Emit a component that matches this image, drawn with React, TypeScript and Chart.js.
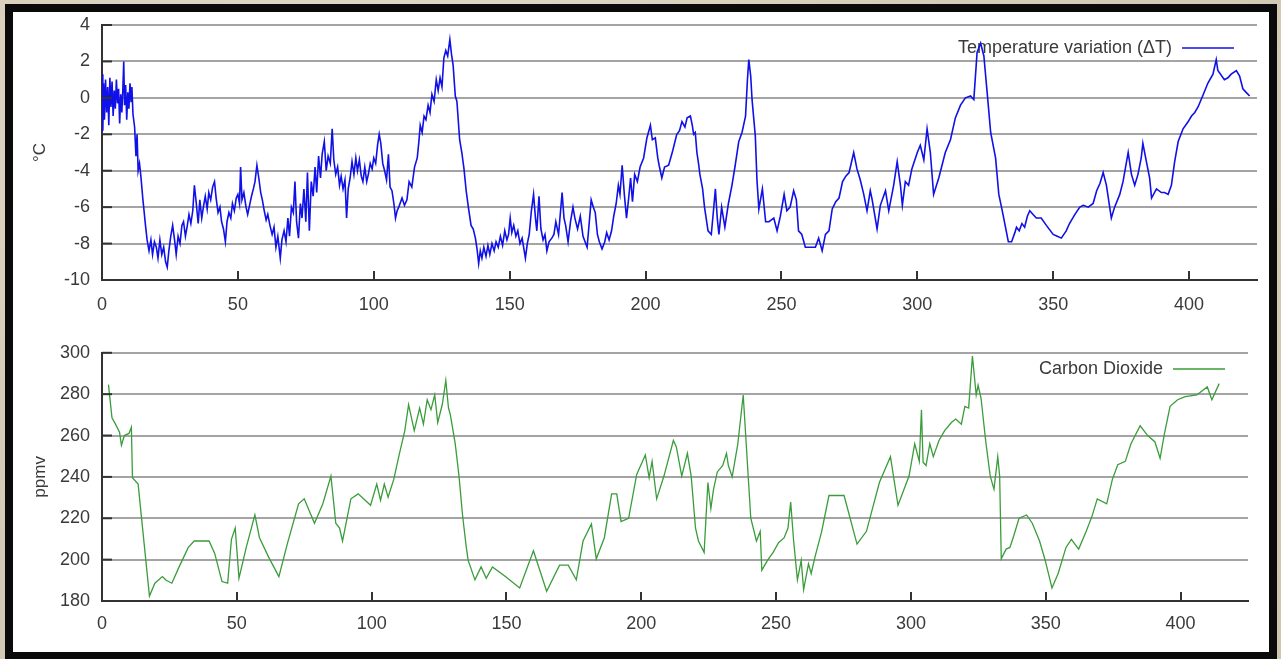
import React, { useEffect, useRef } from "react";
import { Chart, registerables } from "chart.js";

Chart.register(...registerables);

// ---------- data ----------
const tempAge = [
  0, 0.3, 0.6, 0.9, 1.3, 1.7, 2.1, 2.5, 2.9, 3.3, 3.7, 4.1, 4.5, 4.9, 5.3, 5.7, 6.1, 6.5, 6.9, 7.3, 7.7, 8.0, 8.3, 8.7, 9.1, 9.5, 9.9, 10.3, 10.7, 11.0,
  11.4, 12.0, 12.5, 12.9, 13.3, 13.8, 14.3, 15.0, 16.0, 16.6, 17.3, 18.0, 18.6, 19.3, 20.0, 20.6, 21.3, 22.0, 22.7, 23.4, 24.0, 24.6, 25.3, 26.0, 26.7, 27.3, 28.0, 28.7, 29.4, 30.0,
  30.7, 31.4, 32.0, 32.7, 33.4, 34.0, 34.7, 35.4, 36.0, 36.7, 37.3, 38.0, 38.7, 39.3, 40.0, 40.7, 41.4, 42.0, 42.7, 43.4, 44.0, 44.7, 45.4, 46.0, 46.7, 47.4, 48.0, 48.7, 49.4, 50.0,
  50.6, 51.0, 51.5, 52.2, 53.0, 53.6, 54.3, 55.0, 55.7, 56.3, 57.0, 57.7, 58.4, 59.0, 59.7, 60.4, 61.0, 61.8, 62.6, 63.3, 64.0, 64.7, 65.6, 66.2, 67.0, 67.7, 68.4, 69.0, 69.7, 70.4,
  71.0, 71.6, 72.3, 73.0, 73.6, 74.3, 75.0, 75.6, 76.3, 77.0, 77.7, 78.4, 79.0, 79.7, 80.4, 81.0, 81.8, 82.5, 83.2, 84.0, 84.7, 85.3, 86.0, 86.7, 87.4, 88.0, 88.7, 89.4, 90.0, 90.6,
  91.3, 92.0, 92.7, 93.4, 94.0, 94.7, 95.4, 96.0, 96.7, 97.4, 98.0, 98.7, 99.4, 100.0, 100.7, 101.4, 102.0, 102.6, 103.3, 104.0, 104.7, 105.4, 106.0, 106.7, 107.4, 108.0, 108.6,
  109.2, 110.4, 111.3, 112.2, 113.0, 114.0, 115.0, 116.0, 116.6, 117.1, 117.8, 118.5, 119.2, 120.0, 120.7, 121.4, 122.2, 123.0, 123.7, 124.4, 125.1, 125.8, 126.5, 127.2, 128.0, 128.6, 129.2, 130.0, 130.6,
  131.6, 132.4, 133.2, 134.0, 134.9, 135.8, 136.6, 137.4, 138.0, 138.6, 139.2, 139.8, 140.5, 141.3, 142.0, 142.7, 143.5, 144.3, 145.0, 145.8, 146.6, 147.4, 148.2, 149.0, 149.6,
  150.2, 150.8, 151.5, 152.3, 153.0, 153.8, 154.6, 155.8, 156.5, 157.2, 158.0, 158.8, 159.5, 160.0, 160.8, 161.5, 162.3, 163.0, 163.7, 164.5, 165.5, 166.3, 167.0, 168.0, 169.3,
  170.0, 170.6, 171.5, 172.4, 173.3, 174.0, 175.0, 176.0, 177.0, 178.5, 179.2, 180.0, 180.8, 181.5, 182.3, 183.0, 184.0, 185.0, 185.7, 186.6, 187.5, 188.3, 189.2, 190.0, 190.6,
  191.4, 192.2, 193.0, 193.8, 194.5, 195.2, 196.0, 197.0, 198.0, 199.3, 200.5, 201.8, 202.5, 203.6, 204.5, 205.0, 206.0, 207.0, 208.5, 210.0, 211.5, 212.5, 213.4, 214.5, 215.3,
  216.5, 217.2, 217.7, 218.3, 218.9, 219.5, 220.0, 221.0, 221.7, 223.0, 224.2, 225.0, 225.7, 226.4, 227.0, 228.0, 229.2, 230.5, 231.8, 233.0, 234.3, 235.5, 236.8, 237.5, 238.0,
  238.7, 239.2, 240.4, 241.0, 241.7, 243.0, 244.2, 245.4, 247.2, 248.4, 249.6, 251.0, 252.0, 253.2, 254.5, 255.5, 256.3, 257.5, 258.8, 260.6, 262.5, 263.7, 265.0, 266.2, 267.5,
  268.7, 270.0, 271.2, 272.5, 273.7, 274.9, 276.6, 277.8, 279.0, 280.3, 281.5, 282.7, 283.4, 285.2, 286.4, 288.3, 289.5, 291.3, 292.6, 293.8, 294.5, 295.6, 296.8, 298.0, 300.0,
  301.1, 302.4, 303.6, 304.8, 306.0, 307.9, 310.3, 312.2, 314.0, 315.9, 317.7, 319.6, 320.8, 322.0, 323.3, 324.5, 325.7, 327.0, 328.8, 330.0, 331.4, 333.5, 334.7, 335.9, 336.5,
  337.5, 338.5, 339.5, 340.5, 341.4, 342.6, 343.8, 345.6, 347.5, 350.0, 351.5, 353.0, 354.8, 356.0, 358.0, 359.8, 361.1, 362.9, 364.7, 366.0, 367.2, 368.4, 369.6, 371.4, 372.6,
  374.5, 375.7, 377.0, 377.6, 378.8, 380.0, 381.2, 382.4, 383.0, 384.3, 385.5, 386.2, 388.0, 389.8, 391.0, 392.3, 393.5, 394.7, 396.0, 397.8, 399.7, 400.9, 402.1, 403.3, 405.0,
  406.9, 408.8, 410.0, 410.6, 413.0, 414.3, 415.5, 417.4, 418.6, 419.8, 421.0, 422.3,
];
const tempDelta = [
  1.3, -1.8, 0.8, -1.2, 1.0, -0.8, 0.6, -1.5, 1.1, -0.5, 0.9, -1.0, 0.4, -0.6, 1.0, -0.3, 0.5, -1.4, 0.2, -0.8, 0.6, 2.0, -0.4, 0.7, -1.2, 0.3, -0.6, 0.8, -0.2, 0.6,
  -0.9, -1.6, -3.2, -2.0, -4.0, -3.6, -4.3, -5.5, -7.0, -7.8, -8.4, -7.8, -8.6, -7.9, -8.2, -8.8, -7.8, -8.6, -8.2, -9.0, -9.3, -8.4, -7.6, -7.0, -7.8, -8.6, -7.6, -8.0, -7.0, -6.8,
  -7.6, -7.0, -6.4, -6.9, -6.2, -4.8, -5.8, -6.9, -5.6, -6.6, -6.0, -5.4, -6.1, -5.2, -5.6, -4.9, -4.6, -5.5, -6.3, -6.0, -6.8, -7.2, -7.9, -6.8, -6.3, -6.6, -5.8, -6.2, -5.5, -5.3,
  -5.8, -3.8, -5.6, -5.2, -6.0, -6.4, -5.9, -5.4, -5.0, -4.6, -3.7, -4.4, -5.2, -5.6, -6.2, -6.7, -6.4, -7.0, -7.5, -7.1, -8.2, -7.6, -8.8, -7.8, -7.3, -7.9, -6.6, -7.6, -6.0, -6.3,
  -4.6, -6.8, -7.7, -5.8, -6.6, -5.0, -6.8, -4.1, -7.3, -4.6, -5.4, -3.8, -5.2, -3.2, -4.4, -3.1, -2.4, -4.0, -3.2, -3.6, -1.7, -3.4, -4.2, -3.8, -4.8, -4.3, -5.0, -4.5, -6.6, -5.0,
  -4.4, -3.5, -4.2, -3.3, -4.0, -3.4, -4.3, -4.6, -3.8, -4.6, -4.2, -3.6, -3.9, -3.3, -3.6, -2.6, -2.0, -2.5, -3.6, -4.0, -4.5, -3.1, -4.9, -5.1, -5.8, -6.6, -6.2,
  -6.0, -5.5, -5.9, -5.6, -4.6, -4.9, -3.8, -3.3, -2.4, -1.5, -1.9, -1.0, -1.2, -0.4, -0.8, 0.2, -0.2, 1.0, 0.4, 1.1, 0.6, 2.2, 2.6, 2.3, 3.2, 2.4, 1.8, 0.1, -0.2,
  -2.3, -3.0, -3.9, -5.1, -6.1, -7.0, -7.2, -7.7, -8.3, -9.1, -8.4, -8.8, -8.2, -8.7, -8.1, -8.6, -8.0, -8.4, -7.9, -8.2, -7.6, -8.1, -7.3, -7.8, -7.5,
  -6.6, -7.4, -7.0, -7.6, -7.3, -8.0, -7.7, -8.8, -8.0, -7.5, -6.2, -5.3, -6.6, -7.3, -5.4, -7.2, -7.8, -7.5, -8.4, -7.9, -7.7, -7.5, -6.8, -7.5, -5.2,
  -6.6, -7.0, -7.9, -6.8, -6.0, -6.6, -7.2, -6.5, -7.6, -8.2, -7.0, -5.6, -6.0, -6.3, -7.5, -7.9, -8.3, -7.9, -7.4, -7.8, -7.3, -6.5, -5.8, -4.8, -5.3,
  -3.7, -5.3, -6.6, -5.5, -4.4, -5.7, -4.2, -4.6, -3.8, -3.3, -2.2, -1.5, -2.3, -2.2, -3.3, -3.7, -4.4, -3.8, -3.7, -2.9, -2.0, -1.8, -1.3, -1.6, -1.1,
  -1.0, -1.5, -2.0, -1.9, -3.0, -3.6, -4.2, -5.0, -6.0, -7.3, -7.5, -6.2, -5.0, -6.6, -7.5, -6.0, -7.1, -5.8, -4.8, -3.7, -2.4, -1.9, -1.0, 1.0, 2.1,
  1.2, -0.1, -2.1, -4.5, -6.1, -5.0, -6.8, -6.8, -6.6, -7.3, -6.5, -5.3, -6.2, -6.0, -5.1, -5.6, -7.3, -7.5, -8.2, -8.2, -8.2, -7.7, -8.4, -7.5, -7.3,
  -6.1, -5.7, -5.5, -4.6, -4.3, -4.1, -3.0, -3.9, -4.5, -5.3, -6.2, -5.1, -5.6, -7.2, -5.9, -5.1, -6.2, -4.8, -3.5, -4.8, -5.9, -4.6, -4.8, -3.9, -3.0,
  -2.6, -3.4, -1.7, -3.0, -5.3, -4.4, -3.0, -2.3, -1.1, -0.4, 0.0, 0.1, -0.1, 2.5, 3.0, 2.3, 0.3, -1.9, -3.3, -5.3, -6.3, -7.9, -7.9, -7.4, -7.1,
  -7.3, -6.9, -7.1, -6.5, -6.2, -6.4, -6.6, -6.6, -7.0, -7.5, -7.6, -7.7, -7.3, -6.9, -6.4, -6.0, -5.9, -6.0, -5.8, -5.1, -4.7, -4.1, -4.8, -6.6, -6.0,
  -5.3, -4.6, -3.5, -3.0, -4.2, -4.8, -4.2, -3.3, -2.5, -3.5, -4.4, -5.5, -5.0, -5.2, -5.2, -5.3, -4.8, -3.5, -2.4, -1.7, -1.3, -1.0, -0.8, -0.5, 0.1,
  0.8, 1.3, 2.1, 1.5, 1.0, 1.1, 1.3, 1.5, 1.2, 0.5, 0.3, 0.1,
];

const co2Age = [
  2.4, 3.7, 5.0, 6.5, 7.2, 8.3, 10.0, 10.9, 11.3, 13.4, 14.8, 17.6, 19.6, 22.4, 23.8, 25.9, 28.6, 32.0, 34.2, 39.7,
  41.8, 44.5, 46.6, 48.0, 49.4, 50.8, 53.5, 56.7, 58.4, 61.8, 65.6, 68.7, 72.9, 75.0, 78.8, 81.9, 84.9, 86.7, 88.1, 89.2,
  92.3, 95.0, 99.6, 101.9, 103.3, 104.7, 106.1, 108.2, 110.2, 112.3, 113.7, 115.8, 117.8, 119.2, 120.6, 122.0, 123.4, 124.5, 126.2, 127.5,
  128.5, 129.2, 131.0, 132.4, 133.7, 135.1, 135.8, 138.3, 140.6, 142.5, 144.8, 149.6, 154.9, 160.0, 164.9, 169.7, 172.9, 175.9, 178.4, 181.5,
  183.3, 186.3, 189.0, 190.9, 192.5, 195.3, 198.3, 201.5, 202.9, 204.0, 205.7, 208.4, 211.9, 213.0, 215.0, 217.1, 218.5, 220.1, 221.2, 223.3,
  224.7, 225.8, 226.8, 228.2, 230.2, 231.6, 232.3, 233.7, 235.8, 237.8, 240.6, 242.7, 244.1, 244.7, 246.8, 248.9, 250.9, 253.0, 254.4, 255.4,
  256.5, 257.9, 259.3, 260.2, 262.0, 263.0, 264.4, 266.9, 269.6, 272.4, 275.2, 280.0, 283.5, 288.3, 292.4, 295.2, 299.3, 301.4, 303.1, 303.9,
  304.5, 305.6, 307.0, 308.3, 310.4, 312.5, 315.0, 316.6, 318.7, 320.0, 321.4, 322.8, 324.2, 324.9, 326.0, 327.7, 329.4, 330.8, 332.2, 332.9,
  333.5, 335.3, 336.7, 338.1, 340.1, 342.9, 345.0, 347.7, 349.8, 352.3, 354.6, 357.5, 359.5, 362.2, 365.0, 367.1, 369.1, 372.6, 374.7, 376.7,
  379.5, 381.6, 385.0, 387.8, 390.5, 392.4, 394.0, 396.1, 398.9, 401.7, 406.0, 409.9, 411.6, 414.3,
];
const co2Ppmv = [
  284.6, 268.6, 265.5, 261.6, 255.3, 260, 261, 264, 239.6, 236.5, 218.4, 182.4, 188.6, 191.8, 190, 188.6, 196.5, 205.9, 209, 209,
  203, 189.4, 188.6, 209.8, 215.3, 191, 205.9, 221.6, 210.6, 201.2, 191.8, 207.5, 227, 229.4, 217.6, 227, 240.4, 217.6, 215.3, 209,
  229.4, 231.8, 226.3, 236.5, 228.7, 236.5, 230.2, 238.8, 250.6, 262.4, 274.9, 262.4, 273.3, 265.5, 277.3, 272.5, 279.6, 266.3, 275, 286.7,
  273.3, 270, 256, 240.4, 221.6, 205.9, 199.6, 190.2, 196.5, 191, 196.5, 191.8, 186.3, 204.3, 184.7, 197.3, 197.3, 190.2, 209, 217.2,
  200.4, 210.6, 231.8, 231.8, 218.4, 220, 241.2, 250.6, 239.6, 247.5, 229.4, 240.4, 257.6, 254.5, 240.4, 251.4, 240.4, 215.3, 209, 203.5,
  237.3, 224.7, 234.1, 242.4, 245.5, 251.4, 245.5, 240, 256, 279.6, 220, 209, 213.7, 194.9, 199.6, 203.5, 208.2, 210.6, 215.3, 227.8,
  209, 190.2, 199.6, 185.5, 198, 193.3, 201.2, 213.7, 231, 231, 231, 207.5, 213.7, 237.3, 249.8, 226.3, 240.4, 256, 247.5, 272.5,
  247.1, 245.5, 256, 249.8, 257.6, 262.4, 266.3, 268, 265.5, 274.1, 273.3, 298.4, 279.6, 284.3, 278, 257.6, 240.4, 234.1, 249.8, 240.4,
  200.4, 205.1, 205.9, 211.4, 220, 221.6, 217.6, 209, 199.6, 186.3, 193.3, 205.9, 209.8, 205.1, 213.7, 220.8, 229.4, 227, 238.8, 245.9,
  247.5, 256, 264.7, 260, 256.9, 249, 260.8, 274.1, 277.3, 278.8, 279.6, 283.5, 277.3, 285.1,
];

const xTickValues = [0, 50, 100, 150, 200, 250, 300, 350, 400];
const tempTickValues = [-10, -8, -6, -4, -2, 0, 2, 4];
const co2TickValues = [180, 200, 220, 240, 260, 280, 300];

const tempLabel = "Temperature variation (ΔT)";
const co2Label = "Carbon Dioxide";
const tempAxisTitle = "°C";
const co2AxisTitle = "ppmv";

const FONT = '"Liberation Sans", Arial, Helvetica, sans-serif';
const TEXT = "#3a3a3a";
const GRID = "#a4a4a4";
const AXIS = "#333333";
const BLUE = "#1010e8";
const GREEN = "#3a9c3a";

type PanelCfg = {
  ages: number[];
  values: number[];
  color: string;
  lineWidth: number;
  label: string;
  axisTitle: string;
  yTicks: number[];
  xMax: number;
  canvasH: number;
  plotTop: number;
  plotBottom: number;
  plotRight: number;
  xLabelPad: number;
  legendRight: number;
  legendY: number;
  sampleX1: number;
  sampleX2: number;
};

function makeDecor(cfg: PanelCfg) {
  return {
    id: "decor",
    beforeDatasetsDraw(chart: any) {
      const { ctx } = chart;
      ctx.save();
      ctx.font = `18px ${FONT}`;
      ctx.fillStyle = TEXT;
      ctx.textAlign = "right";
      ctx.textBaseline = "middle";
      ctx.fillText(cfg.label, cfg.legendRight, cfg.legendY);
      ctx.strokeStyle = cfg.color;
      ctx.lineWidth = 1.3;
      ctx.beginPath();
      ctx.moveTo(cfg.sampleX1, cfg.legendY);
      ctx.lineTo(cfg.sampleX2, cfg.legendY);
      ctx.stroke();
      ctx.restore();
    },
    afterDatasetsDraw(chart: any) {
      const { ctx, chartArea, scales } = chart;
      ctx.save();
      ctx.strokeStyle = AXIS;
      ctx.lineWidth = 2;
      scales.x.ticks.forEach((t: any) => {
        const px = Math.round(scales.x.getPixelForValue(t.value));
        ctx.beginPath();
        ctx.moveTo(px, chartArea.bottom);
        ctx.lineTo(px, chartArea.bottom - 9);
        ctx.stroke();
      });
      scales.y.ticks.forEach((t: any) => {
        const py = scales.y.getPixelForValue(t.value);
        ctx.beginPath();
        ctx.moveTo(chartArea.left, py);
        ctx.lineTo(chartArea.left + 10, py);
        ctx.stroke();
      });
      ctx.restore();
    },
  };
}

function buildChart(canvas: HTMLCanvasElement, cfg: PanelCfg) {
  const points = cfg.ages.map((a, i) => ({ x: a, y: cfg.values[i] }));
  const padLeft = 28;
  return new Chart(canvas, {
    type: "line",
    data: {
      datasets: [
        {
          label: cfg.label,
          data: points,
          borderColor: cfg.color,
          borderWidth: cfg.lineWidth,
          pointRadius: 0,
          tension: 0,
          fill: false,
        },
      ],
    },
    options: {
      responsive: false,
      animation: false,
      devicePixelRatio: 1,
      layout: {
        padding: { left: padLeft, top: cfg.plotTop, right: 1281 - cfg.plotRight, bottom: 0 },
      },
      plugins: {
        legend: { display: false },
        tooltip: { enabled: false },
      },
      scales: {
        x: {
          type: "linear",
          min: 0,
          max: cfg.xMax,
          afterBuildTicks: (s: any) => {
            s.ticks = xTickValues.map((v) => ({ value: v }));
          },
          afterFit: (s: any) => {
            s.height = cfg.canvasH - cfg.plotBottom;
          },
          ticks: {
            includeBounds: false,
            autoSkip: false,
            maxRotation: 0,
            padding: cfg.xLabelPad,
            color: TEXT,
            font: { family: FONT, size: 18 },
          },
          grid: { display: false, drawTicks: false },
          border: { display: true, color: AXIS, width: 2 },
        },
        y: {
          type: "linear",
          min: cfg.yTicks[0],
          max: cfg.yTicks[cfg.yTicks.length - 1],
          afterBuildTicks: (s: any) => {
            s.ticks = cfg.yTicks.map((v) => ({ value: v }));
          },
          afterFit: (s: any) => {
            s.width = 102 - padLeft;
          },
          ticks: {
            autoSkip: false,
            padding: 12,
            color: TEXT,
            font: { family: FONT, size: 18 },
          },
          grid: { display: true, drawTicks: false, color: GRID, lineWidth: 2 },
          border: { display: true, color: AXIS, width: 2 },
          title: {
            display: true,
            text: cfg.axisTitle,
            color: TEXT,
            font: { family: FONT, size: 17 },
            padding: { top: 2, bottom: 2 },
          },
        },
      },
    },
    plugins: [makeDecor(cfg)],
  });
}

const topCfg: PanelCfg = {
  ages: tempAge,
  values: tempDelta,
  color: BLUE,
  lineWidth: 1.6,
  label: tempLabel,
  axisTitle: tempAxisTitle,
  yTicks: tempTickValues,
  xMax: 425,
  canvasH: 330,
  plotTop: 25,
  plotBottom: 280,
  plotRight: 1257,
  xLabelPad: 14,
  legendRight: 1172,
  legendY: 48,
  sampleX1: 1182,
  sampleX2: 1234,
};

const bottomCfg: PanelCfg = {
  ages: co2Age,
  values: co2Ppmv,
  color: GREEN,
  lineWidth: 1.3,
  label: co2Label,
  axisTitle: co2AxisTitle,
  yTicks: co2TickValues,
  xMax: 425,
  canvasH: 329,
  plotTop: 17,
  plotBottom: 271,
  plotRight: 1248,
  xLabelPad: 12,
  legendRight: 1163,
  legendY: 39,
  sampleX1: 1173,
  sampleX2: 1225,
};

export default function App() {
  const topRef = useRef<HTMLCanvasElement | null>(null);
  const botRef = useRef<HTMLCanvasElement | null>(null);

  useEffect(() => {
    const c1 = buildChart(topRef.current as HTMLCanvasElement, topCfg);
    const c2 = buildChart(botRef.current as HTMLCanvasElement, bottomCfg);
    return () => {
      c1.destroy();
      c2.destroy();
    };
  }, []);

  return (
    <div
      style={{
        position: "fixed",
        left: 0,
        top: 0,
        width: 1281,
        height: 659,
        overflow: "hidden",
        background:
          "radial-gradient(ellipse at 30% 20%, #e2dbcc 0%, #d6cdb9 45%, #cfc5ae 100%)",
      }}
    >
      <div
        style={{
          position: "absolute",
          left: 5,
          top: 4,
          width: 1272,
          height: 655,
          background: "#0a0a0a",
        }}
      />
      <div
        style={{
          position: "absolute",
          left: 13,
          top: 12,
          width: 1256,
          height: 640,
          background: "#ffffff",
        }}
      />
      <canvas
        ref={topRef}
        width={1281}
        height={330}
        style={{ position: "absolute", left: 0, top: 0, width: 1281, height: 330 }}
      />
      <canvas
        ref={botRef}
        width={1281}
        height={329}
        style={{ position: "absolute", left: 0, top: 330, width: 1281, height: 329 }}
      />
    </div>
  );
}
